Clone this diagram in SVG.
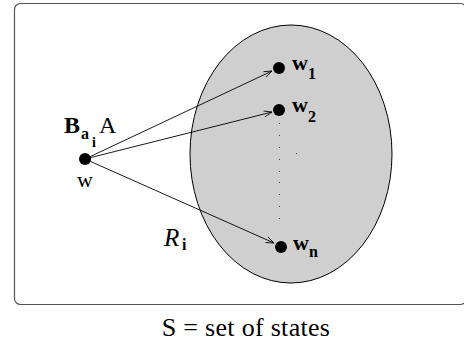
<svg xmlns="http://www.w3.org/2000/svg" width="464" height="343" viewBox="0 0 464 343">
<defs>
<marker id="ah" markerWidth="10" markerHeight="8" refX="9" refY="4" orient="auto" markerUnits="userSpaceOnUse">
<path d="M1,1 L9,4 L1,7" fill="none" stroke="#000" stroke-width="0.8"/>
</marker>
<style>
text{font-family:'Liberation Serif','DejaVu Serif','Times New Roman',serif;fill:#000}
.b{font-weight:bold}
.e{stroke:#000;stroke-width:0.9;fill:none;marker-end:url(#ah)}
.n{fill:#000}
</style>
</defs>
<rect x="14.5" y="3.5" width="452" height="301" rx="6" fill="#fff" stroke="#555" stroke-width="1.2"/>
<g id="set">
<ellipse cx="291" cy="154" rx="101" ry="129" fill="#cfcfcf" stroke="#000" stroke-width="1"/>
<g fill="#444">
<rect x="279" y="123" width="1" height="1"/><rect x="279" y="135" width="1" height="1"/><rect x="279" y="147" width="1" height="1"/><rect x="279" y="159" width="1" height="1"/><rect x="279" y="171" width="1" height="1"/><rect x="279" y="182" width="1" height="1"/><rect x="279" y="194" width="1" height="1"/><rect x="279" y="206" width="1" height="1"/><rect x="279" y="218" width="1" height="1"/><rect x="296" y="153" width="1" height="1"/>
</g>
</g>
<g id="edges">
<line class="e" x1="85" y1="159" x2="272" y2="71"/>
<line class="e" x1="85" y1="159" x2="272" y2="112"/>
<line class="e" x1="85" y1="159" x2="274" y2="243"/>
</g>
<g id="w">
<circle class="n" cx="85" cy="159" r="6"/>
<text x="85" y="187" font-size="22" text-anchor="middle">w</text>
<text y="133" font-size="24"><tspan class="b" x="64">B</tspan><tspan class="b" x="81" y="139" font-size="16">a</tspan><tspan class="b" x="92" y="147" font-size="14">i</tspan><tspan x="99" y="133">A</tspan></text>
</g>
<g id="w1">
<circle class="n" cx="279" cy="68" r="6"/>
<text class="b" x="292" y="70" font-size="22">w<tspan x="308" y="79" font-size="16">1</tspan></text>
</g>
<g id="w2">
<circle class="n" cx="279" cy="110" r="6"/>
<text class="b" x="292" y="112" font-size="22">w<tspan x="308" y="122" font-size="16">2</tspan></text>
</g>
<g id="wn">
<circle class="n" cx="281" cy="247" r="6"/>
<text class="b" x="293" y="250" font-size="22">w<tspan x="309" y="257" font-size="16">n</tspan></text>
</g>
<text x="164" y="246" font-size="25" font-style="italic">R<tspan class="b" font-style="normal" x="182" y="250" font-size="16">i</tspan></text>
<text x="246" y="336" font-size="26" letter-spacing="0.3" text-anchor="middle">S = set of states</text>
</svg>
